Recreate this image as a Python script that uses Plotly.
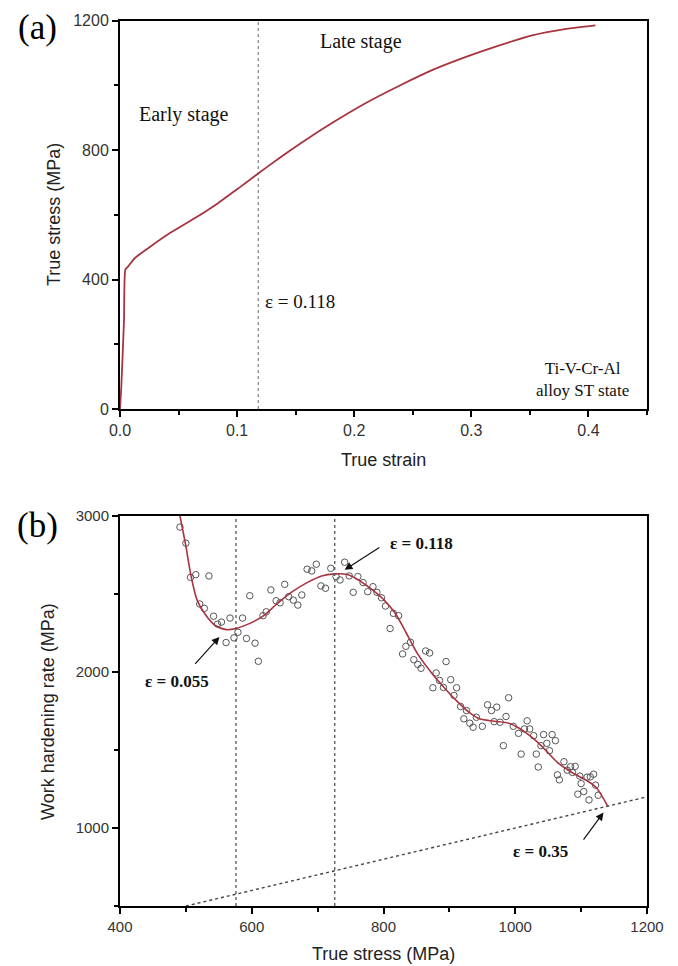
import plotly.graph_objects as go

# ---- (a) true stress - true strain curve ----
strain = [0, 0.0011, 0.0034, 0.0045, 0.0068, 0.0125, 0.024, 0.041, 0.064, 0.084,
          0.101, 0.118, 0.135, 0.155, 0.182, 0.210, 0.239, 0.267, 0.296, 0.324,
          0.352, 0.381, 0.406]
stress = [0, 69, 275, 430, 440, 466, 497, 540, 590, 637,
          682, 728, 773, 823, 886, 946, 1000, 1048, 1089, 1124,
          1155, 1175, 1186]
eps_split = 0.118

# ---- (b) work hardening rate vs true stress ----
pts_stress = [491, 500, 507, 515, 535, 521, 528, 542, 548, 554, 567, 561, 573, 579, 586,
              592, 597, 605, 610, 617, 622, 629, 637, 643, 650, 656, 663, 670, 676, 684,
              691, 698, 705, 712, 720, 728, 734, 741, 748, 754, 761, 769, 776, 784, 790,
              797, 803, 810, 815, 823, 829, 834, 841, 846, 852, 857, 864, 870, 875, 880,
              885, 891, 895, 902, 907, 911, 917, 922, 926, 931, 936, 941, 950, 958, 964,
              968, 972, 977, 982, 986, 990, 997, 1005, 1009, 1014, 1018, 1022, 1028, 1032, 1035,
              1039, 1043, 1048, 1052, 1056, 1061, 1064, 1067, 1074, 1079, 1084, 1091, 1087, 1095, 1098,
              1100, 1104, 1109, 1112, 1114, 1119, 1122, 1126]
pts_theta = [2929, 2826, 2607, 2624, 2616, 2436, 2408, 2358, 2307, 2320, 2346, 2189, 2219, 2255, 2346,
             2215, 2489, 2185, 2069, 2361, 2386, 2526, 2457, 2444, 2562, 2483, 2461, 2429, 2494, 2659,
             2648, 2691, 2552, 2537, 2665, 2612, 2590, 2704, 2616, 2511, 2612, 2573, 2515, 2547, 2511,
             2476, 2423, 2279, 2376, 2361, 2116, 2165, 2191, 2079, 2049, 2024, 2135, 2122, 1899, 1994,
             1946, 1901, 2067, 1951, 1850, 1899, 1779, 1700, 1753, 1672, 1646, 1710, 1652, 1790, 1753,
             1682, 1775, 1678, 1528, 1715, 1835, 1652, 1607, 1474, 1635, 1687, 1635, 1592, 1474, 1391,
             1528, 1599, 1543, 1496, 1599, 1560, 1341, 1309, 1425, 1371, 1393, 1395, 1356, 1217, 1333,
             1285, 1234, 1326, 1180, 1328, 1345, 1275, 1210]

fit_stress = [491, 499.5, 508, 517, 530, 544, 561, 576, 594.5, 617, 639, 661.6, 684, 706, 726,
              745, 762, 784.6, 801, 818, 835, 851.6, 874, 896, 913, 930, 946, 968, 990.4, 1008,
              1025, 1042, 1064, 1086, 1109, 1123, 1140]
fit_theta = [3000, 2818, 2612, 2461, 2365, 2300, 2272, 2279, 2307, 2358, 2440, 2515, 2573, 2616, 2629,
             2625, 2590, 2521, 2461, 2375, 2247, 2118, 1989, 1882, 1807, 1742, 1700, 1685, 1672, 1635,
             1582, 1517, 1421, 1356, 1303, 1260, 1142]

stress_lines = [576, 726]      # sigma at eps = 0.055 and 0.118
ref_line = [500, 1200]         # theta = sigma

red = "#a83440"
serif = "Liberation Serif, Times New Roman, serif"
sans = "Arial, Liberation Sans, sans-serif"

fig = go.Figure()

fig.add_trace(go.Scatter(x=strain, y=stress, mode="lines",
                         line=dict(color=red, width=1.8, shape="spline", smoothing=0.5),
                         xaxis="x", yaxis="y"))

fig.add_trace(go.Scatter(x=ref_line, y=ref_line, mode="lines",
                         line=dict(color="#444", width=1.4, dash="3px,3px"),
                         xaxis="x2", yaxis="y2"))
fig.add_trace(go.Scatter(x=pts_stress, y=pts_theta, mode="markers",
                         marker=dict(symbol="circle-open", size=6.5, color="#555",
                                     line=dict(width=1, color="#555")),
                         xaxis="x2", yaxis="y2"))
fig.add_trace(go.Scatter(x=fit_stress, y=fit_theta, mode="lines",
                         line=dict(color=red, width=1.6, shape="spline", smoothing=0.8),
                         xaxis="x2", yaxis="y2"))

shapes = [dict(type="line", xref="x", yref="y domain", x0=eps_split, x1=eps_split,
               y0=0, y1=1, line=dict(color="#666", width=1, dash="dot"))]
for s in stress_lines:
    shapes.append(dict(type="line", xref="x2", yref="y2 domain", x0=s, x1=s, y0=0, y1=1,
                       line=dict(color="#555", width=1.3, dash="3px,3px")))

ax_common = dict(showline=True, linecolor="black", linewidth=2, mirror=True,
                 ticks="outside", ticklen=6, tickwidth=1.5, tickcolor="black",
                 showgrid=False, zeroline=False, automargin=False,
                 tickfont=dict(family=sans, size=16, color="#333"))
minor = dict(ticks="outside", ticklen=4, tickcolor="black")

# page body has an 8px margin, so the figure is 8px smaller than the window
fig.update_layout(
    width=670, height=958,
    margin=dict(l=0, r=0, t=0, b=0),
    paper_bgcolor="white", plot_bgcolor="white",
    showlegend=False,
    shapes=shapes,
    xaxis=dict(ax_common, domain=[0.1672, 0.9537], anchor="y", range=[0, 0.45],
               dtick=0.1, tickformat=".1f", minor=dict(minor, dtick=0.05)),
    yaxis=dict(ax_common, domain=[0.5814, 0.9867], anchor="x", range=[0, 1200],
               dtick=400, minor=dict(minor, dtick=200)),
    xaxis2=dict(ax_common, domain=[0.1672, 0.9537], anchor="y2", range=[400, 1200],
                dtick=200, tickfont=dict(family=sans, size=15, color="#333"),
                minor=dict(minor, dtick=100)),
    yaxis2=dict(ax_common, domain=[0.0626, 0.4697], anchor="x2", range=[500, 3000],
                tickvals=[1000, 2000, 3000], tickfont=dict(family=sans, size=15, color="#333"),
                minor=dict(minor, dtick=500)),
)


def paper_text(text, x, y, size, family=sans, angle=0, color="#222"):
    return dict(text=text, xref="paper", yref="paper", x=x, y=y, xanchor="center",
                yanchor="middle", textangle=angle, showarrow=False,
                font=dict(family=family, size=size, color=color))


ann = [
    paper_text("True stress (MPa)", 0.0687, 0.7839, 18, angle=-90),
    paper_text("True strain", 0.5604, 0.5282, 18),
    paper_text("Work hardening rate (MPa)", 0.0597, 0.2662, 18, angle=-90),
    paper_text("True stress (MPa)", 0.5604, 0.0125, 18),
    paper_text("(a)", 0.0433, 0.9795, 35, family=serif, color="black"),
    paper_text("(b)", 0.0433, 0.4603, 35, family=serif, color="black"),
]
# panel (a) texts
ann.append(dict(text="Early stage", xref="x", yref="y", x=0.0546, y=911,
                showarrow=False, font=dict(family=serif, size=20, color="#111")))
ann.append(dict(text="Late stage", xref="x", yref="y", x=0.206, y=1135,
                showarrow=False, font=dict(family=serif, size=20, color="#111")))
ann.append(dict(text="ε = 0.118", xref="x", yref="y", x=0.1225, y=332, xanchor="left",
                showarrow=False, font=dict(family=serif, size=19, color="#111")))
ann.append(dict(text="Ti-V-Cr-Al<br>alloy ST state", xref="x", yref="y", x=0.395, y=90,
                showarrow=False, align="center",
                font=dict(family=serif, size=17, color="#111")))
# panel (b) labels and arrows
labels_b = [("ε = 0.118", 857, 2822, 796, 2805, 741, 2655),
            ("ε = 0.055", 486, 1942, 512, 2043, 551, 2225),
            ("ε = 0.35", 1038, 852, 1102, 916, 1134, 1099)]
for txt, tx, ty, ax0, ay0, hx, hy in labels_b:
    ann.append(dict(text="<b>" + txt + "</b>", xref="x2", yref="y2", x=tx, y=ty,
                    showarrow=False, font=dict(family=serif, size=17, color="#111")))
    ann.append(dict(text="", xref="x2", yref="y2", x=hx, y=hy, axref="x2", ayref="y2",
                    ax=ax0, ay=ay0, showarrow=True, arrowhead=2, arrowsize=1.3,
                    arrowwidth=1.2, arrowcolor="#111"))
fig.update_layout(annotations=ann)

fig.write_html("out.html")
